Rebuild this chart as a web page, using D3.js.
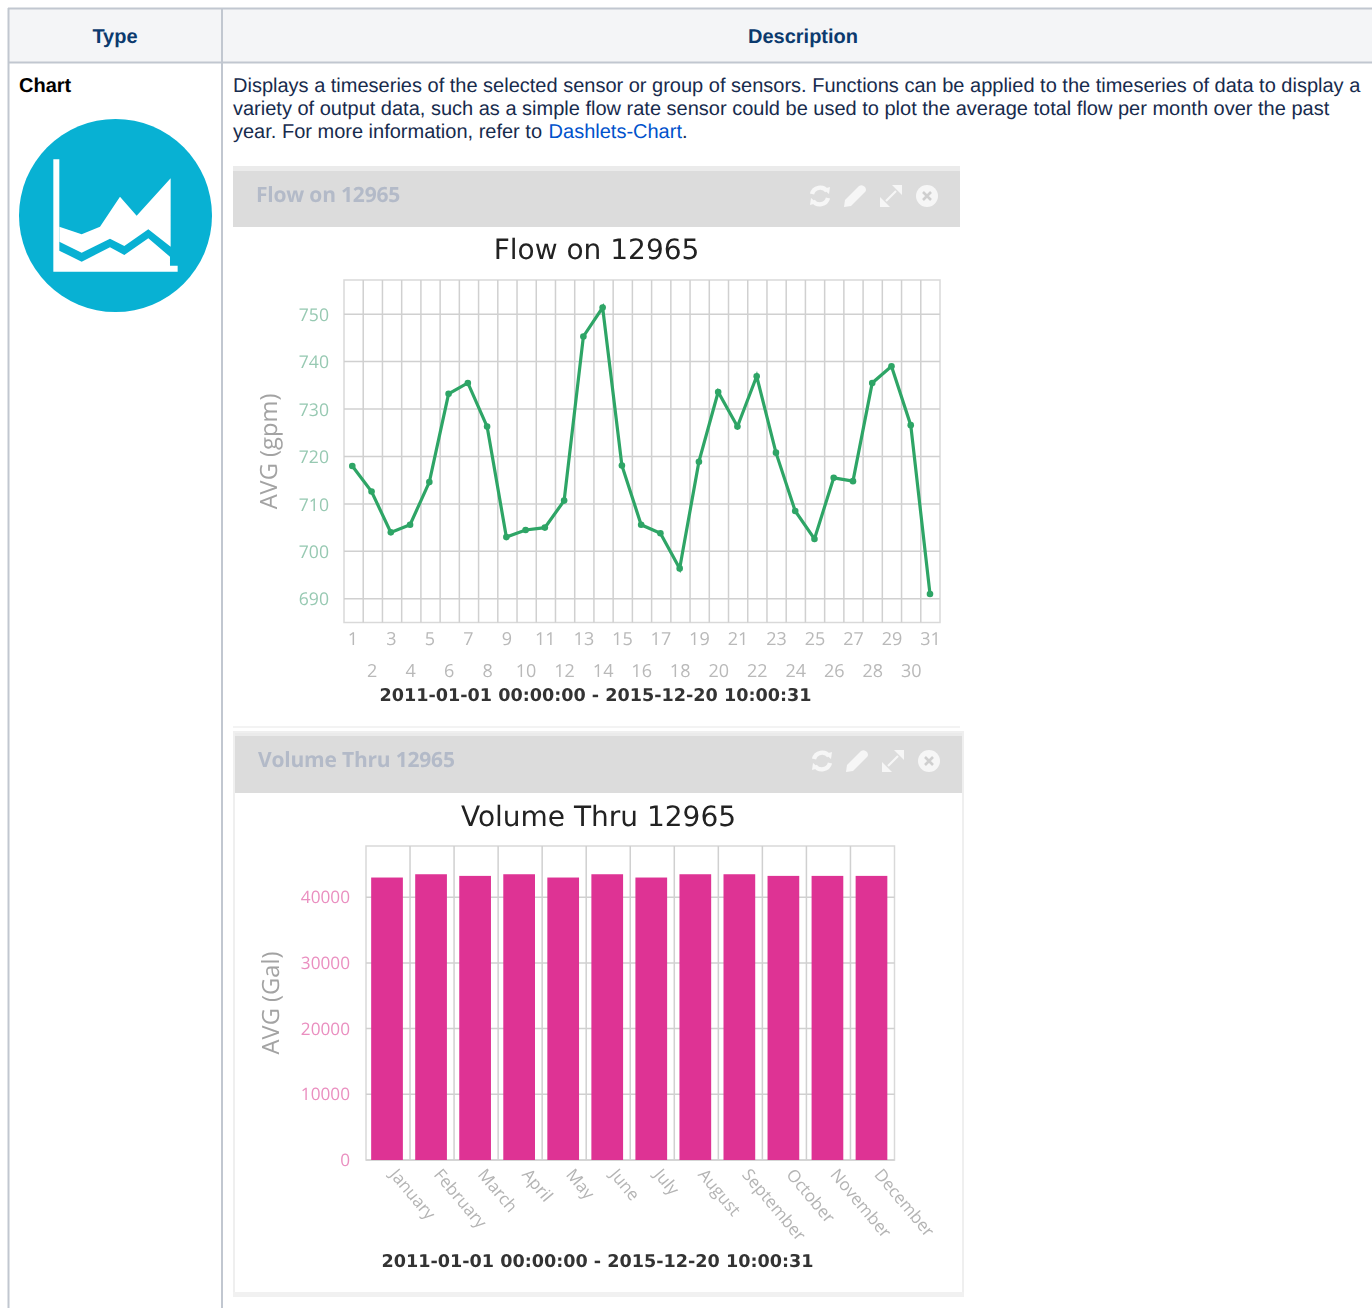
<!DOCTYPE html>
<html>
<head>
<meta charset="utf-8">
<script src="https://cdnjs.cloudflare.com/ajax/libs/d3/7.8.5/d3.min.js"></script>
<style>
  html, body { margin: 0; padding: 0; background: #fff; overflow: hidden; }
  svg { display: block; }
  text { text-rendering: geometricPrecision; }
  .soft { filter: blur(0.45px); }
  .grid line, .grid path { stroke: #d0d0d0; stroke-width: 1.5; fill: none; }
  .axis path, .axis line { display: none; }
  .axis text { font-family: "Open Sans", sans-serif; }
  .body-text { font-family: "Liberation Sans", Arial, sans-serif; font-size: 20px; fill: #172b4d; }
  .panel-title { font-family: "Open Sans", sans-serif; font-size: 21px; font-weight: 700; fill: #b3bac8; letter-spacing: -0.2px; }
  .chart-title { font-family: "DejaVu Sans", Verdana, sans-serif; font-size: 28px; fill: #222; }
  .range { font-family: "DejaVu Sans", Verdana, sans-serif; font-size: 17.6px; font-weight: 600; fill: #333; }
  .y-title { font-family: "Open Sans", sans-serif; font-size: 23.7px; fill: #a3a3a3; }
</style>
</head>
<body>
<svg id="page" width="1372" height="1308"></svg>
<script>
// chart values
const dayLabels = d3.range(1, 32).map(String);
const flowValues = [718.0, 712.6, 704.0, 705.6, 714.6, 733.2, 735.5, 726.3, 703.0, 704.5, 705.0,
    710.7, 745.3, 751.4, 718.1, 705.6, 703.8, 696.4, 718.9, 733.6, 726.3, 736.9, 720.8, 708.5,
    702.6, 715.5, 714.8, 735.5, 739.0, 726.6, 691.0];
const flowTicks = [690, 700, 710, 720, 730, 740, 750];

const monthLabels = ['January', 'February', 'March', 'April', 'May', 'June', 'July', 'August',
    'September', 'October', 'November', 'December'];
const volumeValues = [43000, 43500, 43250, 43500, 43000, 43500, 43000, 43500, 43500, 43250, 43250, 43250];
const volumeTicks = [0, 10000, 20000, 30000, 40000];

const rangeLabel = '2011-01-01 00:00:00 - 2015-12-20 10:00:31';
const descriptionLines = [
    'Displays a timeseries of the selected sensor or group of sensors. Functions can be applied to the timeseries of data to display a',
    'variety of output data, such as a simple flow rate sensor could be used to plot the average total flow per month over the past',
    'year. For more information, refer to '
];

const svg = d3.select('#page');

function drawTable() {
    const g = svg.append('g');
    const border = '#c1c7d0';

    g.append('rect').attr('x', 9).attr('y', 9).attr('width', 1363).attr('height', 53).attr('fill', '#f4f5f7');

    [[8, 8.5, 1372, 8.5], [8, 62.5, 1372, 62.5]].forEach(l => {
        g.append('line').attr('x1', l[0]).attr('y1', l[1]).attr('x2', l[2]).attr('y2', l[3])
            .attr('stroke', border).attr('stroke-width', 2);
    });
    [8.5, 222].forEach(x => {
        g.append('line').attr('x1', x).attr('y1', 8).attr('x2', x).attr('y2', 1308)
            .attr('stroke', border).attr('stroke-width', 2);
    });

    const head = g.append('g').attr('font-family', '"Liberation Sans", Arial, sans-serif')
        .attr('font-size', 20).attr('font-weight', 700).attr('fill', '#0b3a6e').attr('text-anchor', 'middle');
    head.append('text').attr('x', 115).attr('y', 43).text('Type');
    head.append('text').attr('x', 803).attr('y', 43).text('Description');

    g.append('text').attr('class', 'body-text').attr('x', 19).attr('y', 92)
        .attr('font-weight', 700).style('fill', '#000').text('Chart');

    descriptionLines.forEach((line, i) => {
        const t = g.append('text').attr('class', 'body-text').attr('x', 233).attr('y', 92 + i * 23)
            .style('white-space', 'pre').text(line);
        if (i === 2) {
            t.append('tspan').attr('dx', 1).style('fill', '#0052cc').text('Dashlets-Chart');
            t.append('tspan').text('.');
        }
    });
}

function drawIcon() {
    const g = svg.append('g').attr('class', 'soft');
    g.append('circle').attr('cx', 115.5).attr('cy', 215.5).attr('r', 96.5).attr('fill', '#08b1d3');
    const art = g.append('g').attr('transform', 'scale(0.3333)').attr('fill', '#fff');
    art.append('path').attr('d', 'M178,680 L245,703 L300,680 L360,590 L410,647 L512,535 L512,740 L445,688 L373,738 L330,716 L245,758 L178,725 Z');
    art.append('path').attr('d', 'M160,478 L178,478 L178,752 L245,785 L330,742 L373,765 L445,715 L510,770 L510,797 L533,797 L533,815 L160,815 Z');
}

function drawPanelHeader(x, y, w, h, title) {
    const g = svg.append('g').attr('class', 'soft');
    g.append('rect').attr('x', x).attr('y', y).attr('width', w).attr('height', 6).attr('fill', '#ebebeb');
    g.append('rect').attr('x', x).attr('y', y + 5).attr('width', w).attr('height', h).attr('fill', '#dcdcdc');
    g.append('text').attr('class', 'panel-title').attr('x', x + 23).attr('y', y + 36).text(title);

    // toolbar icons: refresh, pencil, expand, close
    const icons = g.append('g').attr('transform', `translate(${x + 576}, ${y + 30})`)
        .attr('fill', 'none').attr('stroke', '#f6f6f6').attr('stroke-width', 4.4);
    const refresh = icons.append('g').attr('transform', 'translate(11, 0)');
    refresh.append('path').attr('d', 'M-8,-2 A8.5,8.5 0 0 1 7,-5');
    refresh.append('path').attr('d', 'M8,2 A8.5,8.5 0 0 1 -7,5');
    refresh.append('path').attr('d', 'M3,-7 L10,-9 L9,-2 Z').attr('fill', '#f6f6f6').attr('stroke', 'none');
    refresh.append('path').attr('d', 'M-3,7 L-10,9 L-9,2 Z').attr('fill', '#f6f6f6').attr('stroke', 'none');
    icons.append('path').attr('transform', 'translate(46, 0)')
        .attr('d', 'M-11,11 L-10,4 L4,-10 Q7,-12 10,-9 Q12,-6 10,-4 L-4,10 Z')
        .attr('fill', '#f6f6f6').attr('stroke', 'none');
    const expand = icons.append('g').attr('transform', 'translate(82, 0)');
    expand.append('path').attr('d', 'M-5,5 L5,-5').attr('stroke-width', 2.2);
    expand.append('path').attr('d', 'M1,-11 L11,-11 L11,-1 Z').attr('fill', '#f6f6f6').attr('stroke', 'none');
    expand.append('path').attr('d', 'M-1,11 L-11,11 L-11,1 Z').attr('fill', '#f6f6f6').attr('stroke', 'none');
    const close = icons.append('g').attr('transform', 'translate(118, 0)');
    close.append('circle').attr('r', 11).attr('fill', '#f6f6f6').attr('stroke', 'none');
    close.append('path').attr('d', 'M-4,-4 L4,4 M4,-4 L-4,4').attr('stroke', '#cfcfcf').attr('stroke-width', 2.6);
}

function drawFlowChart() {
    const left = 344, right = 940, top = 280, bottom = 622.5;
    const g = svg.append('g').attr('class', 'soft');

    g.append('text').attr('class', 'chart-title').attr('x', 596.5).attr('y', 259)
        .attr('text-anchor', 'middle').text('Flow on 12965');

    // points sit a little left of the grid cell centres in the picture
    const x = d3.scalePoint().domain(dayLabels).range([352.3, 930]);
    const cells = d3.scaleBand().domain(dayLabels).range([left, right]);
    const y = d3.scaleLinear().domain([685, 757.2]).range([bottom, top]);

    // grid
    const grid = g.append('g').attr('class', 'grid');
    grid.append('rect').attr('x', left).attr('y', top).attr('width', right - left).attr('height', bottom - top)
        .attr('fill', 'none').attr('stroke', '#d9d9d9').attr('stroke-width', 1.5);
    grid.selectAll('line.v').data(dayLabels.slice(1)).enter().append('line').attr('class', 'v')
        .attr('x1', d => cells(d)).attr('x2', d => cells(d)).attr('y1', top).attr('y2', bottom);
    grid.selectAll('line.h').data(flowTicks).enter().append('line').attr('class', 'h')
        .attr('x1', left).attr('x2', right).attr('y1', d => y(d)).attr('y2', d => y(d));

    // axes
    const yAxis = g.append('g').attr('class', 'axis').attr('transform', `translate(${left}, 0.5)`)
        .call(d3.axisLeft(y).tickValues(flowTicks).tickSize(0).tickPadding(15));
    yAxis.selectAll('text').attr('font-size', 17.6).attr('fill', '#97c9b2');

    const xAxis = g.append('g').attr('class', 'axis').attr('transform', `translate(0, ${bottom})`)
        .call(d3.axisBottom(x).tickSize(0));
    xAxis.selectAll('text').attr('font-size', 18).attr('fill', '#b9b9b9')
        .attr('dy', null)
        .attr('y', (d, i) => i % 2 === 0 ? 22 : 54);

    g.append('text').attr('class', 'y-title').attr('text-anchor', 'middle')
        .attr('transform', 'translate(277, 451.5) rotate(-90)').text('AVG (gpm)');

    // series
    const line = d3.line()
        .x((d, i) => x(dayLabels[i]))
        .y(d => y(d));
    g.append('path').datum(flowValues).attr('d', line)
        .attr('fill', 'none').attr('stroke', '#2ea566').attr('stroke-width', 3.2);
    g.selectAll('circle.pt').data(flowValues).enter().append('circle').attr('class', 'pt')
        .attr('cx', (d, i) => x(dayLabels[i]))
        .attr('cy', d => y(d)).attr('r', 3.3).attr('fill', '#2ea566');

    g.append('text').attr('class', 'range').attr('x', 595.5).attr('y', 701)
        .attr('text-anchor', 'middle').text(rangeLabel);

    g.append('line').attr('x1', 233).attr('x2', 960).attr('y1', 727).attr('y2', 727)
        .attr('stroke', '#efefef').attr('stroke-width', 1.5);
}

function drawVolumeChart() {
    const left = 366, right = 894.5, top = 846, bottom = 1160;
    const g = svg.append('g').attr('class', 'soft');

    // panel frame
    g.append('rect').attr('x', 234).attr('y', 732).attr('width', 729).attr('height', 563)
        .attr('fill', 'none').attr('stroke', '#efefef').attr('stroke-width', 2);
    g.append('rect').attr('x', 233).attr('y', 1292).attr('width', 731).attr('height', 5).attr('fill', '#f1f1f1');

    g.append('text').attr('class', 'chart-title').attr('x', 598.5).attr('y', 826)
        .attr('text-anchor', 'middle').text('Volume Thru 12965');

    const x = d3.scaleBand().domain(monthLabels).range([left - 1, right - 1]).paddingInner(0.28).paddingOuter(0.14);
    const y = d3.scaleLinear().domain([0, 47800]).range([bottom, top]);

    // grid sits on the band edges
    const edge = d => x(d) - x.step() * 0.14 + 1;
    const grid = g.append('g').attr('class', 'grid');
    grid.append('rect').attr('x', left).attr('y', top).attr('width', right - left).attr('height', bottom - top)
        .attr('fill', 'none').attr('stroke', '#d9d9d9').attr('stroke-width', 1.5);
    grid.selectAll('line.v').data(monthLabels.slice(1)).enter().append('line').attr('class', 'v')
        .attr('x1', edge).attr('x2', edge).attr('y1', top).attr('y2', bottom);
    grid.selectAll('line.h').data(volumeTicks).enter().append('line').attr('class', 'h')
        .attr('x1', left).attr('x2', right).attr('y1', d => y(d)).attr('y2', d => y(d));

    g.selectAll('rect.bar').data(volumeValues).enter().append('rect').attr('class', 'bar')
        .attr('x', (d, i) => x(monthLabels[i]))
        .attr('y', d => y(d))
        .attr('width', x.bandwidth())
        .attr('height', d => bottom - y(d))
        .attr('fill', '#de3394');

    const yAxis = g.append('g').attr('class', 'axis').attr('transform', `translate(${left}, 0)`)
        .call(d3.axisLeft(y).tickValues(volumeTicks).tickFormat(d3.format('d')).tickSize(0).tickPadding(16));
    yAxis.selectAll('text').attr('font-size', 17.2).attr('fill', '#ea8fc0');

    const xAxis = g.append('g').attr('class', 'axis').attr('transform', `translate(0, ${bottom})`)
        .call(d3.axisBottom(x).tickSize(0));
    xAxis.selectAll('text').attr('font-size', 17).attr('fill', '#b4b4b4')
        .attr('text-anchor', 'start').attr('dy', null).attr('y', 0).attr('x', 0)
        .attr('transform', 'translate(2, 15) rotate(50)');

    g.append('text').attr('class', 'y-title').attr('text-anchor', 'middle')
        .attr('transform', 'translate(279, 1003) rotate(-90)').text('AVG (Gal)');

    g.append('text').attr('class', 'range').attr('x', 597.5).attr('y', 1267)
        .attr('text-anchor', 'middle').text(rangeLabel);
}

drawTable();
drawIcon();
drawPanelHeader(233, 166, 727, 56, 'Flow on 12965');
drawFlowChart();
drawPanelHeader(235, 731, 728, 57, 'Volume Thru 12965');
drawVolumeChart();
</script>
</body>
</html>
